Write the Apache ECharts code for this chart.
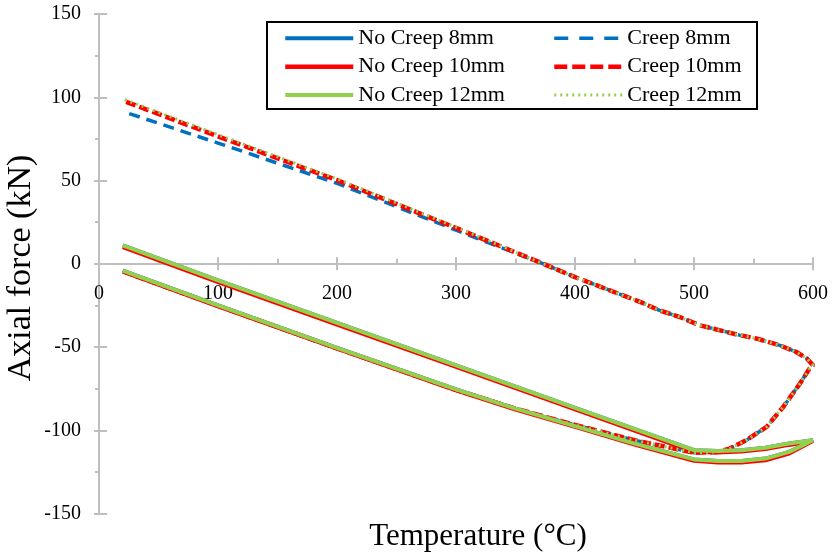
<!DOCTYPE html>
<html>
<head>
<meta charset="utf-8">
<script src="https://cdn.jsdelivr.net/npm/echarts@6.0.0/dist/echarts.min.js"></script>
<style>
html,body{margin:0;padding:0;background:#fff;}
#chart{width:836px;height:557px;}
</style>
</head>
<body>
<div id="chart"></div>
<script>
// ---- Data ----
const xTicks = [0, 100, 200, 300, 400, 500, 600];
const yTicks = [-150, -100, -50, 0, 50, 100, 150];

// No creep: heating 20 -> 600 then cooling 600 -> 20
const ncTemp   = [20, 100, 200, 300, 350, 400, 450, 500, 520, 540, 560, 580, 600, 580, 560, 540, 520, 500, 400, 300, 200, 100, 20];
const nc8Force = [-4.2, -25.0, -50.5, -75.5, -87.0, -97.5, -108.0, -117.5, -118.5, -118.5, -117.0, -113.0, -106.0, -108.0, -110.5, -112.0, -112.5, -112.0, -86.5, -61.0, -35.5, -10.0, 11.0];
const nc10Force= [-4.8, -25.6, -51.0, -76.0, -87.6, -98.0, -108.6, -118.3, -119.3, -119.3, -118.0, -114.0, -106.5, -108.8, -111.3, -112.8, -113.3, -113.0, -87.5, -62.0, -36.5, -11.0, 10.0];
const nc12Force= [-4.2, -25.0, -50.5, -75.5, -87.0, -97.5, -108.0, -117.5, -118.5, -118.5, -117.0, -113.0, -106.0, -108.0, -110.5, -112.0, -112.5, -112.0, -86.5, -61.0, -35.5, -10.0, 11.0];

// Creep: heating 20 -> 600 then cooling 600 -> 20
const cTemp    = [20, 100, 200, 300, 350, 400, 450, 500, 520, 530, 544, 561, 575, 589, 597, 600, 595, 586, 572, 553, 539, 522, 505, 488, 471, 455, 400, 375, 300, 200, 100, 20];
const c8Force  = [-4.5, -25.3, -50.8, -75.8, -87.0, -96.8, -106.0, -113.5, -113.0, -111.0, -106.0, -98.0, -86.0, -72.0, -63.0, -61.0, -57.0, -53.0, -49.0, -45.0, -43.0, -40.0, -37.0, -32.0, -28.0, -23.0, -8.0, -0.5, 20.2, 48.3, 72.5, 91.5];
const c10Force = [-4.5, -25.3, -50.8, -75.8, -87.0, -96.8, -106.0, -113.5, -113.0, -111.0, -106.0, -98.0, -86.0, -72.0, -63.0, -61.0, -57.0, -53.0, -49.0, -45.0, -43.0, -40.0, -37.0, -32.0, -28.0, -23.0, -8.0, -0.5, 21.5, 50.2, 76.5, 98.0];
const c12Force = [-4.5, -25.3, -50.8, -75.8, -87.0, -96.8, -106.0, -113.5, -113.0, -111.0, -106.0, -98.0, -86.0, -72.0, -63.0, -61.0, -57.0, -53.0, -49.0, -45.0, -43.0, -40.0, -37.0, -32.0, -28.0, -23.0, -8.0, -0.5, 22.0, 51.0, 77.5, 99.0];

const names = ['No Creep 8mm', 'Creep 8mm', 'No Creep 10mm', 'Creep 10mm', 'No Creep 12mm', 'Creep 12mm'];

function pairs(xs, ys) { return xs.map((x, i) => [x, ys[i]]); }

const FONT = '"Liberation Serif", "Times New Roman", serif';
const AXC = '#bfbfbf';
const BLUE = '#0070C0', RED = '#FF0000', GREEN = '#92D050';
const DASH8 = [11, 7], DASH10 = [10, 4], DOT12 = [2, 4];

function lineSeries(name, data, color, width, type, z) {
  return {
    name: name, type: 'line', data: data, showSymbol: false, symbol: 'none',
    xAxisIndex: 0, yAxisIndex: 0, z: z, animation: false,
    lineStyle: { color: color, width: width, type: type, cap: 'butt' },
    itemStyle: { color: color }
  };
}

const GRID_TOP = 14, GRID_BOTTOM = 43.5, H = 557;
const plotH = H - GRID_TOP - GRID_BOTTOM;
const zeroOffset = -plotH * (0 - yTicks[0]) / (yTicks[yTicks.length - 1] - yTicks[0]);

const chart = echarts.init(document.getElementById('chart'), null, { renderer: 'canvas' });

const xBase = { type: 'value', min: xTicks[0], max: xTicks[xTicks.length - 1], interval: 100, gridIndex: 0, position: 'bottom', offset: zeroOffset };
const yBase = { type: 'value', min: yTicks[0], max: yTicks[yTicks.length - 1], interval: 50, gridIndex: 0, position: 'left' };

function legendItem(name, color, width, type) {
  return { name: name, itemStyle: { opacity: 0, borderWidth: 0 }, lineStyle: { color: color, width: width, type: type } };
}

chart.setOption({
  animation: false,
  backgroundColor: '#fff',
  grid: { left: 99, right: 23, top: GRID_TOP, bottom: GRID_BOTTOM, containLabel: false },
  xAxis: [
    Object.assign({}, xBase, {
      axisLine: { show: true, onZero: false, lineStyle: { color: AXC, width: 2 } },
      axisTick: { show: true, inside: false, length: 6.5, lineStyle: { color: AXC, width: 2 } },
      minorTick: { show: false },
      splitLine: { show: false },
      axisLabel: { show: true, margin: 20, fontSize: 20, fontFamily: FONT, color: '#000', showMinLabel: true, showMaxLabel: true }
    }),
    Object.assign({}, xBase, {
      axisLine: { show: false, onZero: false },
      axisTick: { show: true, inside: true, length: 6.5, lineStyle: { color: AXC, width: 2 } },
      minorTick: { show: true, splitNumber: 2, length: 5, lineStyle: { color: AXC, width: 2 } },
      splitLine: { show: false },
      axisLabel: { show: false }
    })
  ],
  yAxis: [
    Object.assign({}, yBase, {
      axisLine: { show: true, onZero: false, lineStyle: { color: AXC, width: 2 } },
      axisTick: { show: true, inside: false, length: 5, lineStyle: { color: AXC, width: 2 } },
      minorTick: { show: true, splitNumber: 2, length: 4, lineStyle: { color: AXC, width: 2 } },
      splitLine: { show: false },
      axisLabel: { show: true, margin: 18, fontSize: 20, fontFamily: FONT, color: '#000', showMinLabel: true, showMaxLabel: true }
    }),
    Object.assign({}, yBase, {
      axisLine: { show: false, onZero: false },
      axisTick: { show: true, inside: true, length: 8, lineStyle: { color: AXC, width: 2 } },
      minorTick: { show: false },
      splitLine: { show: false },
      axisLabel: { show: false }
    })
  ],
  legend: [
    {
      data: [legendItem('No Creep 8mm', BLUE, 4, 'solid'), legendItem('No Creep 10mm', RED, 4.5, 'solid'), legendItem('No Creep 12mm', GREEN, 4, 'solid')],
      orient: 'vertical', left: 283, top: 27.3, itemWidth: 68, itemHeight: 14, itemGap: 6.33,
      padding: 0, selectedMode: false, z: 5,
      textStyle: { fontSize: 22, fontFamily: FONT, color: '#000', lineHeight: 22 }
    },
    {
      data: [legendItem('Creep 8mm', BLUE, 3.5, [14, 11]), legendItem('Creep 10mm', RED, 4.5, [13, 5]), legendItem('Creep 12mm', GREEN, 3, [2, 4])],
      orient: 'vertical', left: 552, top: 27.3, itemWidth: 68, itemHeight: 14, itemGap: 6.33,
      padding: 0, selectedMode: false, z: 5,
      textStyle: { fontSize: 22, fontFamily: FONT, color: '#000', lineHeight: 22 }
    }
  ],
  graphic: [
    { type: 'rect', z: 4, shape: { x: 267, y: 22, width: 490, height: 87 },
      style: { fill: '#fff', stroke: '#000', lineWidth: 2 } },
    { type: 'text', z: 5, x: 478, y: 537,
      style: { text: 'Temperature (°C)', font: '31px ' + FONT, fill: '#000', textAlign: 'center', textVerticalAlign: 'middle' } },
    { type: 'text', z: 5, x: 21, y: 268, rotation: Math.PI / 2,
      style: { text: 'Axial force (kN)', font: '34px ' + FONT, fill: '#000', textAlign: 'center', textVerticalAlign: 'middle' } }
  ],
  series: [
    lineSeries(names[0], pairs(ncTemp, nc8Force), BLUE, 4, 'solid', 2),
    lineSeries(names[1], pairs(cTemp, c8Force), BLUE, 3.5, DASH8, 2),
    lineSeries(names[2], pairs(ncTemp, nc10Force), RED, 4, 'solid', 2),
    lineSeries(names[3], pairs(cTemp, c10Force), RED, 4.5, DASH10, 2),
    lineSeries(names[4], pairs(ncTemp, nc12Force), GREEN, 4, 'solid', 2),
    lineSeries(names[5], pairs(cTemp, c12Force), GREEN, 3, DOT12, 2)
  ]
});
</script>
</body>
</html>
